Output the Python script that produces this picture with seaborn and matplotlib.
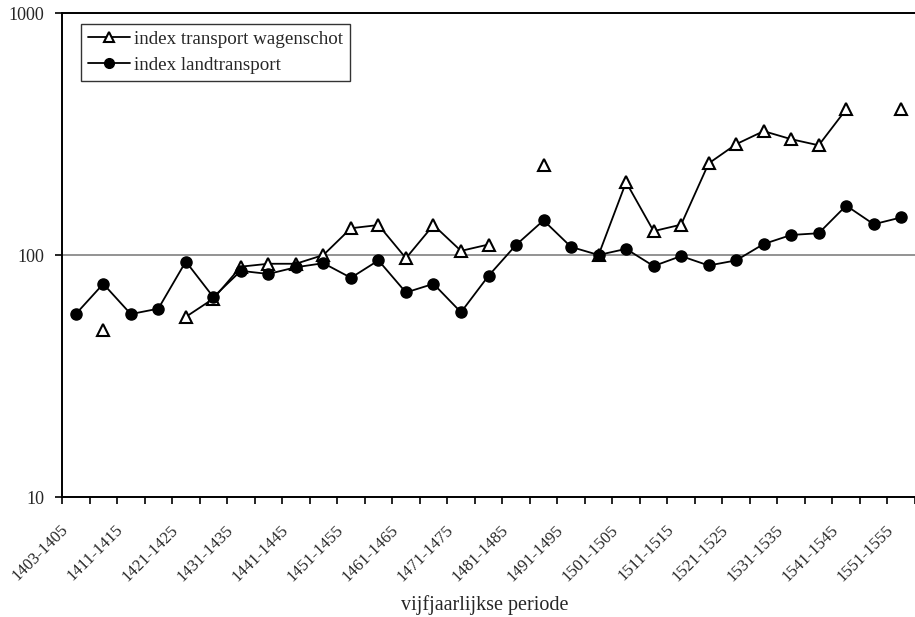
import numpy as np
import pandas as pd
import matplotlib
matplotlib.use("Agg")
import matplotlib.pyplot as plt
import matplotlib.transforms as mtransforms
from matplotlib.lines import Line2D
from matplotlib.ticker import FixedLocator, FixedFormatter, NullLocator
import seaborn as sns

# Five-year periods (category axis)
perioden = [
    "1403-1405", "1406-1410", "1411-1415", "1416-1420", "1421-1425",
    "1426-1430", "1431-1435", "1436-1440", "1441-1445", "1446-1450",
    "1451-1455", "1456-1460", "1461-1465", "1466-1470", "1471-1475",
    "1476-1480", "1481-1485", "1486-1490", "1491-1495", "1496-1500",
    "1501-1505", "1506-1510", "1511-1515", "1516-1520", "1521-1525",
    "1526-1530", "1531-1535", "1536-1540", "1541-1545", "1546-1550",
    "1551-1555",
]

nan = np.nan
index_wagenschot = [
    nan, 49, nan, nan, 55.5, 66, 89.5, 92, 92, 100,
    129, 133, 97, 133, 104, 110.5, nan, 236, nan, 100,
    200, 125.5, 133.5, 239, 287, 325, 301, 284, 400, nan,
    400,
]
index_landtransport = [
    57, 76, 57, 60, 94, 67, 86, 83.5, 89, 92.5,
    80.5, 95, 70, 76, 58, 82, 110, 139, 108, 100,
    106, 90, 99, 90.5, 95, 111, 121, 123, 160, 134,
    143,
]

y_ticks = [10, 100, 1000]
y_tick_labels = ["10", "100", "1000"]

sns.set_theme(style="white")
plt.rcParams["font.family"] = ["Liberation Serif", "DejaVu Serif"]

df_land = pd.DataFrame({"pos": np.arange(len(perioden)), "index": index_landtransport})
df_wag = pd.DataFrame({"pos": np.arange(len(perioden)), "index": index_wagenschot})
# gaps in the series split it into separately drawn pieces
df_wag["deel"] = df_wag["index"].isna().cumsum()
df_wag = df_wag.dropna()

fig = plt.figure(figsize=(9.15, 6.17), dpi=100)
ax = fig.add_axes([62 / 915, 1 - 497 / 617, 1 - 62 / 915, (497 - 13) / 617])

sns.lineplot(
    data=df_wag, x="pos", y="index", units="deel", estimator=None,
    color="black", linewidth=1.3, marker="^", markersize=8,
    markerfacecolor="white", markeredgecolor="black", markeredgewidth=1.5,
    ax=ax, legend=False, zorder=3,
)
sns.lineplot(
    data=df_land, x="pos", y="index", color="black", linewidth=1.3,
    marker="o", markersize=8, markerfacecolor="black",
    markeredgecolor="black", markeredgewidth=1,
    ax=ax, legend=False, zorder=4,
)

ax.set_yscale("log")
ax.set_ylim(10, 1000)
ax.set_xlim(-0.5, len(perioden) - 0.5)

ax.yaxis.set_major_locator(FixedLocator(y_ticks))
ax.yaxis.set_major_formatter(FixedFormatter(y_tick_labels))
ax.yaxis.set_minor_locator(NullLocator())
ax.yaxis.grid(True, which="major", color="#808080", linewidth=1.2)
ax.set_axisbelow(True)

label_pos = np.arange(0, len(perioden), 2)
ax.xaxis.set_major_locator(FixedLocator(label_pos))
ax.xaxis.set_major_formatter(FixedFormatter([perioden[i] for i in label_pos]))
ax.xaxis.set_minor_locator(FixedLocator(np.arange(-0.5, len(perioden), 1.0)))

ax.tick_params(axis="x", which="major", length=0, pad=22, labelsize=12)
ax.tick_params(axis="x", which="minor", bottom=True, length=5, width=1.2, color="black")
ax.tick_params(axis="y", which="major", left=True, length=5, width=1.2,
               color="black", labelsize=13, pad=8)

# rotated period labels, nudged left so their ends sit below the category
shift = mtransforms.ScaledTranslation(-10 / 100, 0, fig.dpi_scale_trans)
for lbl in ax.get_xticklabels():
    lbl.set_rotation(45)
    lbl.set_ha("right")
    lbl.set_va("center")
    lbl.set_rotation_mode("anchor")
    lbl.set_transform(lbl.get_transform() + shift)

for side in ["left", "bottom", "top"]:
    ax.spines[side].set_visible(True)
    ax.spines[side].set_color("black")
    ax.spines[side].set_linewidth(1.4)
ax.spines["right"].set_visible(False)

ax.set_xlabel("")
ax.set_ylabel("")
fig.text(485 / 915, 1 - 605 / 617, "vijfjaarlijkse periode",
         ha="center", va="center", fontsize=14.5)

handles = [
    Line2D([], [], color="black", linewidth=1.3, marker="^", markersize=6.5,
           markerfacecolor="white", markeredgecolor="black", markeredgewidth=1.5),
    Line2D([], [], color="black", linewidth=1.3, marker="o", markersize=7,
           markerfacecolor="black", markeredgecolor="black"),
]
leg = ax.legend(
    handles, ["index transport wagenschot", "index landtransport"],
    loc="upper left", bbox_to_anchor=(19 / 853, (497 - 24) / 484),
    borderaxespad=0, frameon=True, fancybox=False, shadow=False,
    fontsize=13.7, handlelength=2.2, handletextpad=0.25, labelspacing=0.45,
    borderpad=0.35,
)
leg.get_frame().set_edgecolor("black")
leg.get_frame().set_linewidth(1.0)

fig.savefig("out.png", dpi=100)
